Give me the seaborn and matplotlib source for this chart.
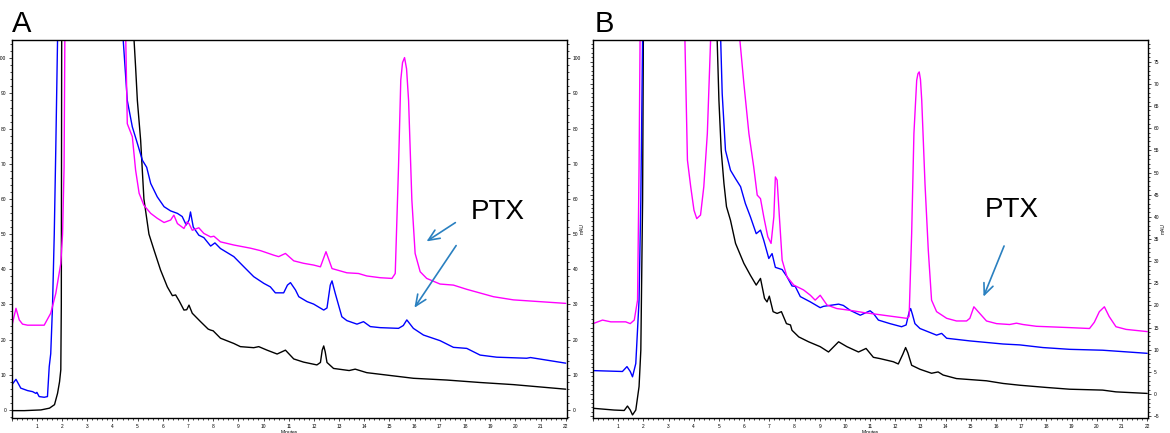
import numpy as np
import pandas as pd
import matplotlib
matplotlib.use("Agg")
import matplotlib.pyplot as plt
import seaborn as sns
from matplotlib.ticker import MultipleLocator, FuncFormatter


# ---- panel A chromatograms (minutes, mAU) ----
a_black_t = [0.0, 0.5, 1.16, 1.5, 1.7, 1.82, 1.9, 1.95, 1.97, 1.99, 2.05, 4.8, 4.86, 4.92, 4.99,
             5.12, 5.25, 5.45, 5.65, 5.91, 6.18, 6.38, 6.51, 6.65, 6.84, 6.95, 7.04, 7.17, 7.5,
             7.8, 7.9, 8.0, 8.29, 8.82, 9.08, 9.61, 9.81, 10.14, 10.54, 10.87, 11.2, 11.59,
             12.12, 12.26, 12.33, 12.39, 12.45, 12.52, 12.78, 13.4, 13.64, 14.1, 15.95, 17.28,
             18.6, 19.92, 22.0]
a_black_y = [-0.2, -0.2, 0.0, 0.5, 1.5, 4.7, 8.0, 11.4, 30.0, 130, 130, 130, 105, 97.5, 88,
             76.7, 60.0, 50.0, 45.5, 39.8, 35.0, 32.5, 32.7, 31.0, 28.4, 28.5, 29.8, 27.5, 25.1,
             23.0, 22.7, 22.5, 20.4, 18.9, 18.0, 17.7, 18.0, 17.0, 15.9, 17.0, 14.5, 13.6,
             12.8, 13.5, 17.0, 18.2, 16.5, 13.5, 11.8, 11.2, 11.6, 10.6, 9.0, 8.5,
             7.8, 7.2, 5.9]

a_blue_t = [0.0, 0.17, 0.3, 0.36, 0.63, 0.83, 0.96, 1.0, 1.09, 1.29, 1.42, 1.49, 1.55, 1.62,
            1.69, 1.75, 1.82, 1.85, 4.4, 4.43, 4.59, 4.79, 4.99, 5.19, 5.36, 5.52, 5.78, 6.05,
            6.31, 6.58, 6.77, 6.93, 7.04, 7.1, 7.21, 7.43, 7.63, 7.9, 8.07, 8.29, 8.82, 9.22,
            9.61, 10.01, 10.27, 10.47, 10.8, 10.95, 11.07, 11.27, 11.4, 11.73, 11.99, 12.39,
            12.52, 12.65, 12.72, 12.78, 12.85, 13.11, 13.31, 13.71, 13.97, 14.24, 14.63, 15.36,
            15.55, 15.69, 15.95, 16.35, 17.01, 17.54, 18.07, 18.6, 19.26, 20.45, 20.6, 22.0]
a_blue_y = [7.1, 8.7, 7.0, 6.2, 5.5, 5.2, 4.7, 5.0, 3.8, 3.6, 3.8, 12.3, 16.0, 29.4,
            50.0, 74.0, 105, 130, 130, 105, 88, 80.5, 75.8, 71.0, 69.0, 64.4, 60.6, 57.8,
            56.6, 55.9, 55.0, 52.6, 54.0, 56.3, 52.0, 49.7, 49.0, 46.6, 47.5, 45.9, 43.6, 40.7,
            37.9, 36.0, 35.0, 33.3, 33.3, 35.5, 36.2, 34.1, 32.2, 30.8, 30.1, 28.4,
            29.0, 35.5, 36.7, 35.0, 33.1, 26.5, 25.4, 24.4, 25.1, 23.7, 23.4, 23.2,
            24.0, 25.6, 23.2, 21.3, 19.7, 17.8, 17.5, 15.6, 15.0, 14.7, 14.9, 13.3]

a_magenta_t = [0.0, 0.17, 0.3, 0.43, 0.63, 1.29, 1.55, 1.75, 1.95, 2.02, 2.08, 2.11, 2.14,
               4.5, 4.53, 4.59, 4.79, 4.92, 5.06, 5.25, 5.52, 5.78, 6.05, 6.31, 6.44, 6.58,
               6.84, 6.97, 7.04, 7.17, 7.43, 7.63, 7.9, 8.03, 8.29, 8.82, 9.48, 9.88, 10.41,
               10.6, 10.87, 11.2, 11.59, 11.99, 12.26, 12.48, 12.72, 13.31, 13.77, 14.1, 14.63,
               15.1, 15.23, 15.36, 15.45, 15.52, 15.6, 15.68, 15.76, 15.89, 16.02, 16.22, 16.48,
               17.01, 17.54, 18.07, 19.13, 19.92, 22.0]
a_magenta_y = [23.7, 28.9, 25.6, 24.4, 24.1, 24.1, 27.5, 33.1, 41.7, 50.0, 69.0, 105, 130,
               130, 105, 81.4, 77.7, 68.2, 61.6, 58.2, 55.9, 54.5, 53.3, 54.0, 55.4, 53.0,
               51.6, 53.5, 53.0, 51.1, 51.8, 50.2, 49.2, 49.4, 47.8, 46.9, 46.0, 45.3, 44.0,
               43.6, 44.5, 42.4, 41.7, 41.2, 40.7, 45.0, 40.2, 39.0, 38.8, 38.1, 37.6,
               37.4, 38.8, 69.1, 93.8, 98.8, 100.2, 97.0, 88.0, 59.7, 44.5, 39.3, 37.4,
               35.8, 35.5, 34.3, 32.2, 31.3, 30.3]

# ---- panel B chromatograms ----
b_black_t = [0.0, 0.84, 1.24, 1.37, 1.48, 1.57, 1.7, 1.83, 1.9, 1.97, 2.0, 2.03, 4.9, 4.93,
             5.0, 5.09, 5.2, 5.3, 5.46, 5.66, 5.99, 6.25, 6.48, 6.65, 6.81, 6.91, 7.0, 7.15,
             7.31, 7.48, 7.68, 7.84, 7.9, 8.17, 8.56, 9.02, 9.35, 9.75, 10.08, 10.54, 10.84,
             11.13, 11.4, 11.92, 12.12, 12.3, 12.41, 12.5, 12.65, 12.98, 13.44, 13.7, 13.9,
             14.43, 15.62, 16.28, 16.94, 17.99, 18.92, 20.23, 20.76, 22.0]
b_black_y = [-3.2, -3.6, -3.7, -2.7, -3.6, -4.7, -3.6, 1.7, 9.9, 43.6, 80, 100, 100, 80,
             66.3, 55.0, 47.5, 42.3, 39.2, 34.0, 29.5, 26.8, 24.6, 26.1, 21.6, 20.8, 22.1, 18.6,
             18.2, 18.6, 15.9, 15.6, 14.4, 12.9, 11.8, 10.7, 9.5, 11.8, 10.7, 9.5, 10.3,
             8.3, 8.0, 7.3, 6.8, 9.0, 10.5, 9.3, 6.5, 5.6, 4.7, 5.0, 4.3,
             3.5, 3.0, 2.4, 2.0, 1.5, 1.1, 0.9, 0.5, 0.15]

b_blue_t = [0.0, 1.17, 1.35, 1.48, 1.57, 1.7, 1.83, 1.9, 1.97, 2.0, 5.05, 5.07, 5.13, 5.26,
            5.46, 5.66, 5.86, 6.05, 6.25, 6.48, 6.65, 6.78, 6.98, 7.11, 7.24, 7.51, 7.7, 7.9,
            8.03, 8.23, 8.63, 9.02, 9.15, 9.75, 9.94, 10.21, 10.61, 11.0, 11.13, 11.33, 11.79,
            12.25, 12.43, 12.55, 12.61, 12.68, 12.78, 12.98, 13.64, 13.84, 14.04, 14.96, 16.28,
            16.94, 17.86, 18.92, 20.23, 22.0]
b_blue_y = [5.3, 5.1, 6.2, 5.1, 3.9, 6.9, 21.2, 43.8, 80, 100, 100, 80, 67.8, 55.0,
            50.5, 48.6, 46.8, 43.0, 40.0, 36.2, 37.0, 34.7, 30.6, 31.7, 28.6, 28.1, 26.5, 24.4,
            24.3, 22.0, 20.8, 19.5, 19.8, 20.3, 20.0, 18.9, 17.8, 18.8, 18.2, 16.7, 15.9,
            15.2, 15.6, 18.5, 19.3, 18.0, 15.9, 14.8, 13.3, 13.7, 12.6, 12.0, 11.3,
            11.1, 10.5, 10.1, 9.9, 9.2]

b_magenta_t = [0.0, 0.38, 0.71, 1.3, 1.48, 1.64, 1.77, 1.83, 1.87, 1.9, 3.62, 3.65, 3.75,
               3.88, 4.01, 4.12, 4.27, 4.4, 4.54, 4.67, 4.7, 5.8, 5.83, 5.99, 6.19, 6.38, 6.52,
               6.65, 6.78, 6.94, 7.07, 7.18, 7.24, 7.31, 7.4, 7.51, 7.7, 7.97, 8.36, 8.63, 8.82,
               9.02, 9.29, 9.68, 10.21, 10.74, 11.27, 11.79, 12.45, 12.55, 12.65, 12.74, 12.85,
               12.9, 12.95, 13.0, 13.05, 13.18, 13.31, 13.44, 13.64, 14.04, 14.43, 14.83, 14.96,
               15.12, 15.29, 15.62, 16.02, 16.54, 16.81, 17.07, 17.6, 18.92, 19.71, 19.9, 20.1,
               20.3, 20.49, 20.76, 21.16, 22.0]
b_magenta_y = [15.9, 16.7, 16.3, 16.3, 15.9, 16.7, 21.2, 51.3, 80, 100, 100, 80, 52.8,
               46.8, 41.5, 39.6, 40.4, 46.8, 58.8, 80, 100, 100, 80, 70.1, 58.8, 51.3, 44.9,
               44.1, 40.0, 35.5, 34.0, 40.0, 49.0, 48.3, 40.0, 30.2, 26.5, 24.6, 23.5, 22.3, 21.2,
               22.3, 20.1, 19.3, 18.9, 18.4, 18.0, 17.6, 17.1, 17.5, 36.2, 58.8, 70.8,
               72.3, 72.7, 71.0, 66.3, 47.4, 32.5, 21.2, 18.6, 17.1, 16.5, 16.5, 17.1,
               19.7, 18.6, 16.5, 15.9, 15.7, 16.0, 15.7, 15.3, 15.0, 14.8, 16.2, 18.6,
               19.7, 17.5, 15.2, 14.6, 14.1]

trace_colors = {"black": "#000000", "blue": "#0000ff", "magenta": "#ff00ff"}
arrow_color = "#2a80c0"


def make_frame(traces):
    parts = []
    for name, (t, y) in traces.items():
        parts.append(pd.DataFrame({"min": t, "mAU": y, "trace": name}))
    return pd.concat(parts, ignore_index=True)


def style_axis(ax, ylim, ymajor, yminor, left_labels):
    ax.set_xlim(0, 22.05)
    ax.set_ylim(*ylim)
    ax.xaxis.set_major_locator(MultipleLocator(1))
    ax.xaxis.set_minor_locator(MultipleLocator(0.2))
    ax.xaxis.set_major_formatter(FuncFormatter(lambda v, p: "" if v < 0.5 else "%d" % v))
    ax.yaxis.set_major_locator(MultipleLocator(ymajor))
    ax.yaxis.set_minor_locator(MultipleLocator(yminor))
    ax.tick_params(which="both", direction="out", width=0.5, labelsize=3.5, pad=1.5,
                   colors="black", left=True, right=True,
                   labelleft=left_labels, labelright=True)
    ax.tick_params(which="major", length=2.5)
    ax.tick_params(which="minor", length=1.5)
    for s in ax.spines.values():
        s.set_visible(True)
        s.set_linewidth(1.0)
        s.set_color("black")
    ax.set_xlabel("Minutes", fontsize=3.5, labelpad=1, color="black")
    ax.set_ylabel("")
    ax.text(1.027, 0.5, "mAU", transform=ax.transAxes, rotation=90, fontsize=3.5,
            ha="center", va="center", color="black")


sns.set_style("ticks")
plt.rcParams["font.family"] = ["Liberation Sans", "DejaVu Sans"]
plt.rcParams["text.color"] = "black"

fig = plt.figure(figsize=(11.7, 4.33), dpi=100)
ax_a = fig.add_axes([0.010, 0.0346, 0.4746, 0.873])
ax_b = fig.add_axes([0.5068, 0.0346, 0.4748, 0.873])

df_a = make_frame({"black": (a_black_t, a_black_y),
                   "blue": (a_blue_t, a_blue_y),
                   "magenta": (a_magenta_t, a_magenta_y)})
df_b = make_frame({"black": (b_black_t, b_black_y),
                   "blue": (b_blue_t, b_blue_y),
                   "magenta": (b_magenta_t, b_magenta_y)})

for ax, df in [(ax_a, df_a), (ax_b, df_b)]:
    sns.lineplot(data=df, x="min", y="mAU", hue="trace", palette=trace_colors,
                 sort=False, estimator=None, linewidth=1.0, legend=False, ax=ax)

style_axis(ax_a, (-2.3, 105.2), 10, 2, True)
style_axis(ax_b, (-5.4, 79.9), 5, 1, False)

# panel letters
fig.text(0.0105, 0.927, "A", fontsize=21, ha="left", va="baseline", color="black")
fig.text(0.508, 0.927, "B", fontsize=21, ha="left", va="baseline", color="black")

# PTX annotations
arrow_kw = dict(arrowstyle="->,head_length=0.8,head_width=0.35", color=arrow_color, lw=1.2)
ax_a.text(19.29, 56.3, "PTX", fontsize=20, ha="center", va="center", color="black")
ax_a.annotate("", xy=(16.38, 47.5), xytext=(17.71, 53.7), arrowprops=arrow_kw)
ax_a.annotate("", xy=(15.93, 28.4), xytext=(17.71, 47.4), arrowprops=arrow_kw)

ax_b.text(16.64, 41.5, "PTX", fontsize=20, ha="center", va="center", color="black")
ax_b.annotate("", xy=(15.46, 21.4), xytext=(16.36, 34.0), arrowprops=arrow_kw)

fig.savefig("out.png", dpi=100)
